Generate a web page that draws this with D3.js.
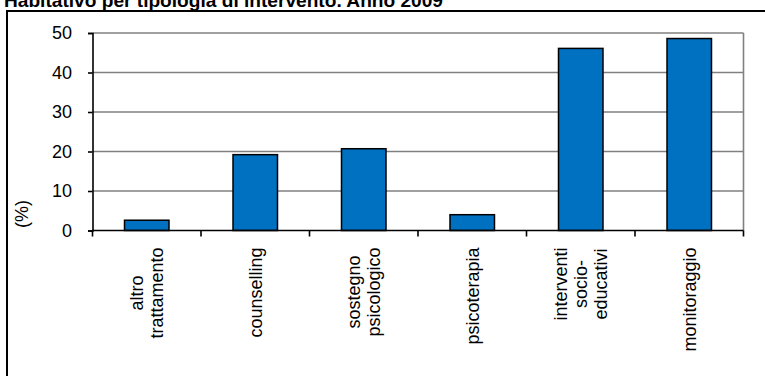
<!DOCTYPE html>
<html>
<head>
<meta charset="utf-8">
<script src="https://cdn.jsdelivr.net/npm/d3@7"></script>
<style>
  html, body { margin: 0; padding: 0; background: #fff; }
  svg { display: block; font-family: "Liberation Sans", Arial, sans-serif; }
</style>
</head>
<body>
<svg id="chart" width="765" height="376"></svg>
<script>
// Categorie di intervento (righe multiple per le etichette ruotate)
const categories = [
  ["altro", "trattamento"],
  ["counselling"],
  ["sostegno", "psicologico"],
  ["psicoterapia"],
  ["interventi", "socio-", "educativi"],
  ["monitoraggio"]
];
// Percentuale di soggetti per tipologia di intervento
const values = [2.6, 19.2, 20.7, 4.0, 46.1, 48.6];
const yTicks = [0, 10, 20, 30, 40, 50];
const titleText = "Habitativo per tipologia di intervento. Anno 2009";
const yTitle = "(%)";

const svg = d3.select("#chart");
const plot = { left: 92.5, right: 743.5, top: 33, bottom: 230.5 };

// Cornice esterna del grafico
svg.append("rect")
  .attr("x", 7).attr("y", 11)
  .attr("width", 800).attr("height", 400)
  .attr("fill", "none").attr("stroke", "#000").attr("stroke-width", 2);

// Titolo, che prosegue oltre il bordo superiore
svg.append("text")
  .attr("x", 4).attr("y", 6.5)
  .attr("font-weight", "bold").attr("font-size", 19)
  .attr("textLength", 439).attr("lengthAdjust", "spacingAndGlyphs")
  .text(titleText);

const keys = categories.map((c, i) => i);
const x = d3.scaleBand().domain(keys).range([plot.left, plot.right]).padding(0);
const y = d3.scaleLinear().domain([0, 50]).range([plot.bottom, plot.top]);
const barW = x.bandwidth() * 0.41;

// Griglia orizzontale
svg.append("g").selectAll("line")
  .data(yTicks.filter(d => d > 0))
  .join("line")
  .attr("x1", plot.left).attr("x2", plot.right)
  .attr("y1", d => y(d)).attr("y2", d => y(d))
  .attr("stroke", "#808080").attr("stroke-width", 1.6);

// Bordo destro dell'area del grafico
svg.append("line")
  .attr("x1", plot.right).attr("x2", plot.right)
  .attr("y1", y(50)).attr("y2", y(0))
  .attr("stroke", "#808080").attr("stroke-width", 1.6);

// Barre
svg.append("g").selectAll("rect")
  .data(values)
  .join("rect")
  .attr("x", (d, i) => x(i) + x.bandwidth() / 2 - barW / 2)
  .attr("y", d => y(d))
  .attr("width", barW)
  .attr("height", d => y(0) - y(d))
  .attr("fill", "#0070C0")
  .attr("stroke", "#000").attr("stroke-width", 1.5);

// Asse Y
const yAxis = d3.axisLeft(y).tickValues(yTicks).tickSize(4.5).tickPadding(16);
const gy = svg.append("g").attr("transform", `translate(${plot.left},0)`).call(yAxis);
gy.select(".domain").attr("stroke", "#000").attr("stroke-width", 1.6);
gy.selectAll(".tick line").attr("stroke", "#000").attr("stroke-width", 1.6);
gy.selectAll(".tick text").attr("font-size", 18).attr("fill", "#000")
  .attr("font-family", "Liberation Sans, Arial, sans-serif");

// Asse X con tacche ai bordi delle categorie
const gx = svg.append("g");
gx.append("line")
  .attr("x1", plot.left).attr("x2", plot.right)
  .attr("y1", y(0)).attr("y2", y(0))
  .attr("stroke", "#000").attr("stroke-width", 1.6);
const bounds = keys.map(k => x(k)).concat([plot.right]);
gx.selectAll("line.tk")
  .data(bounds)
  .join("line").attr("class", "tk")
  .attr("x1", d => d).attr("x2", d => d)
  .attr("y1", y(0)).attr("y2", y(0) + 6)
  .attr("stroke", "#000").attr("stroke-width", 1.6);

// Etichette delle categorie, ruotate e allineate in alto
const fs = 18, lineH = 20, topY = 247.5;
const measure = svg.append("text").attr("font-size", fs).attr("visibility", "hidden");
categories.forEach((lines, i) => {
  const lens = lines.map(t => { measure.text(t); return measure.node().getComputedTextLength(); });
  const maxLen = d3.max(lens);
  const cy = topY + maxLen / 2;
  const cx = x(i) + x.bandwidth() / 2;
  const n = lines.length;
  lines.forEach((t, j) => {
    const off = (j - (n - 1) / 2) * lineH;
    svg.append("text")
      .attr("transform", `translate(${cx + off + 6.5},${cy}) rotate(-90)`)
      .attr("text-anchor", "middle")
      .attr("font-size", fs)
      .attr("fill", "#000")
      .text(t);
  });
});
measure.remove();

// Titolo dell'asse Y
svg.append("text")
  .attr("transform", `translate(28,214) rotate(-90)`)
  .attr("text-anchor", "middle")
  .attr("font-size", 18)
  .text(yTitle);
</script>
</body>
</html>
